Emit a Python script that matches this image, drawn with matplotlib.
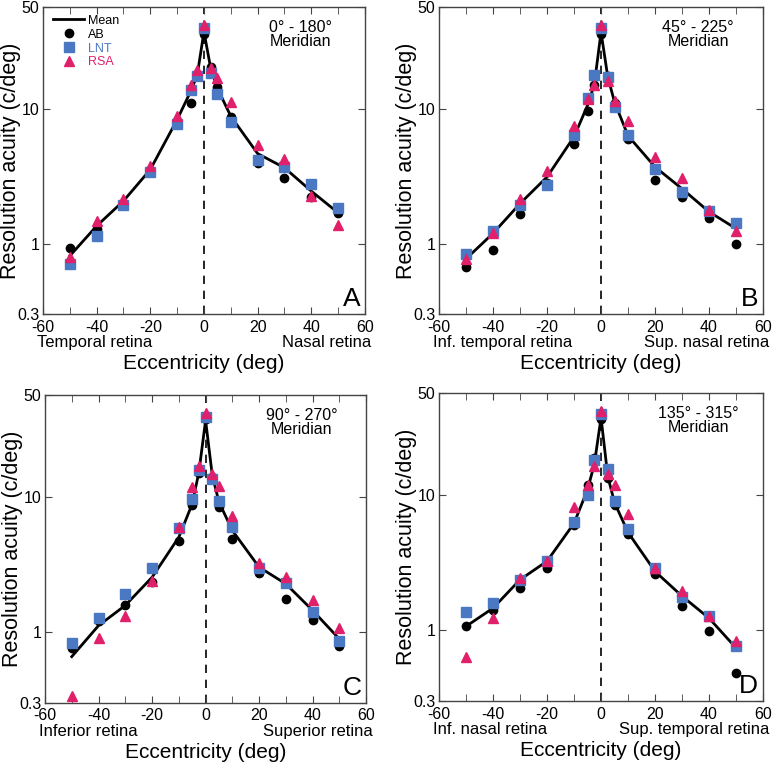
import numpy as np
import matplotlib.pyplot as plt

plt.rcParams['font.family'] = ['Liberation Sans', 'DejaVu Sans']
plt.rcParams['axes.unicode_minus'] = False

ecc = [-50, -40, -30, -20, -10, -5, -2.5, 0, 2.5, 5, 10, 20, 30, 40, 50]

# Panel A: 0-180 meridian
mean_a = [0.81, 1.35, 2.07, 3.54, 8.3, 13.4, 17.8, 37.3, 20.0, 14.2, 8.8, 4.65, 3.65, 2.45, 1.69]
ab_a = [0.92, 1.28, 1.97, 3.44, 8.0, 11.1, 18.0, 36.0, 20.5, 14.4, 8.7, 3.97, 3.07, 2.22, 1.69]
lnt_a = [0.70, 1.14, 1.93, 3.38, 7.7, 13.8, 17.5, 39.5, 18.4, 12.9, 7.97, 4.2, 3.68, 2.77, 1.85]
rsa_a = [0.79, 1.47, 2.15, 3.75, 8.9, 15.0, 19.4, 41.7, 20.2, 16.8, 11.3, 5.4, 4.25, 2.25, 1.37]

# Panel B: 45-225 meridian
mean_b = [0.77, 1.19, 1.98, 3.12, 6.2, 10.6, 15.1, 37.0, 17.2, 11.2, 6.3, 3.7, 2.55, 1.72, 1.29]
ab_b = [0.67, 0.89, 1.67, 2.8, 5.5, 9.7, 15.0, 36.0, 17.6, 11.0, 6.0, 2.98, 2.2, 1.55, 0.99]
lnt_b = [0.84, 1.23, 1.94, 2.73, 6.35, 12.0, 17.9, 39.7, 17.2, 10.3, 6.35, 3.55, 2.41, 1.75, 1.42]
rsa_b = [0.77, 1.19, 2.15, 3.45, 7.4, 11.8, 15.1, 42.0, 16.0, 11.5, 8.1, 4.4, 3.08, 1.77, 1.23]

# Panel C: 90-270 meridian
mean_c = [0.66, 1.12, 1.58, 2.55, 5.05, 8.9, 15.3, 37.0, 14.5, 9.2, 5.66, 3.03, 2.28, 1.45, 0.89]
ab_c = [0.76, 1.21, 1.58, 2.35, 4.77, 8.7, 15.0, 38.0, 14.0, 8.5, 4.9, 2.73, 1.77, 1.23, 0.79]
lnt_c = [0.83, 1.27, 1.92, 2.99, 5.9, 9.7, 15.8, 39.0, 13.7, 9.3, 6.0, 2.98, 2.32, 1.42, 0.86]
rsa_c = [0.34, 0.91, 1.31, 2.41, 6.0, 11.8, 17.1, 42.0, 14.9, 12.1, 7.3, 3.25, 2.55, 1.72, 1.08]

# Panel D: 135-315 meridian
mean_d = [1.07, 1.46, 2.37, 3.25, 6.2, 11.0, 16.9, 37.5, 13.8, 8.8, 5.3, 2.73, 1.79, 1.23, 0.74]
ab_d = [1.07, 1.42, 2.06, 2.9, 6.0, 11.9, 18.9, 36.8, 13.5, 8.4, 5.17, 2.63, 1.52, 0.99, 0.48]
lnt_d = [1.36, 1.58, 2.37, 3.25, 6.3, 10.1, 18.1, 39.6, 15.7, 9.0, 5.6, 2.9, 1.76, 1.27, 0.76]
rsa_d = [0.64, 1.23, 2.44, 3.28, 8.2, 11.8, 16.4, 42.0, 14.4, 11.9, 7.2, 2.9, 1.94, 1.28, 0.83]

panels = [
    ('A', '0\u00b0 - 180\u00b0\nMeridian', 'Temporal retina', 'Nasal retina', mean_a, ab_a, lnt_a, rsa_a),
    ('B', '45\u00b0 - 225\u00b0\nMeridian', 'Inf. temporal retina', 'Sup. nasal retina', mean_b, ab_b, lnt_b, rsa_b),
    ('C', '90\u00b0 - 270\u00b0\nMeridian', 'Inferior retina', 'Superior retina', mean_c, ab_c, lnt_c, rsa_c),
    ('D', '135\u00b0 - 315\u00b0\nMeridian', 'Inf. nasal retina', 'Sup. temporal retina', mean_d, ab_d, lnt_d, rsa_d),
]

BLUE = '#4a78c2'
PINK = '#e0206a'
FRAME = '#444444'
YTOP = 57

boxes = [
    [0.0557, 0.589, 0.417, 0.402],
    [0.5687, 0.589, 0.4197, 0.402],
    [0.0583, 0.080, 0.416, 0.403],
    [0.5687, 0.0825, 0.4197, 0.403],
]

fig = plt.figure(figsize=(7.72, 7.64), dpi=100)

for box, (letter, merid, left_lab, right_lab, mean, ab, lnt, rsa) in zip(boxes, panels):
    ax = fig.add_axes(box)
    ax.set_yscale('log')
    ax.set_xlim(-60, 60)
    ax.set_ylim(0.3, YTOP)
    ax.axvline(0, color='black', ls=(0, (5, 4)), lw=1.2, zorder=1)
    ax.plot(ecc, mean, color='black', lw=2, label='Mean', zorder=2)
    ax.plot(ecc, ab, 'o', color='black', ms=6, label='AB', zorder=3)
    ax.plot(ecc, lnt, 's', color=BLUE, ms=6.5, label='LNT', zorder=3)
    ax.plot(ecc, rsa, '^', color=PINK, ms=7, label='RSA', zorder=4)

    ax.set_xticks(range(-60, 61, 20))
    ax.set_xticks(range(-50, 51, 10), minor=True)
    ax.set_yticks([0.3, 1, 10, YTOP])
    ax.set_yticklabels(['0.3', '1', '10', '50'])
    ax.yaxis.set_minor_locator(plt.NullLocator())
    ax.tick_params(which='both', direction='in', top=True, right=True,
                   labelsize=11.5, color=FRAME, length=5)
    ax.tick_params(axis='x', pad=4)
    ax.tick_params(axis='y', pad=2.5)
    for s in ax.spines.values():
        s.set_color(FRAME)
        s.set_linewidth(1)

    ax.set_ylabel('Resolution acuity (c/deg)', fontsize=15.5, labelpad=-2.5)
    ax.set_xlabel('Eccentricity (deg)', fontsize=15, labelpad=14)
    ax.text(-0.02, -0.094, left_lab, transform=ax.transAxes, fontsize=12,
            ha='left', va='center')
    ax.text(1.02, -0.094, right_lab, transform=ax.transAxes, fontsize=12,
            ha='right', va='center')
    ax.text(0.80, 0.91, merid, transform=ax.transAxes, fontsize=11.5,
            ha='center', va='center', linespacing=0.95)
    ax.text(0.985, 0.025, letter, transform=ax.transAxes, fontsize=19,
            ha='right', va='baseline')

    if letter == 'A':
        ax.legend(loc='upper left', bbox_to_anchor=(0.031, 0.974), frameon=False,
                  fontsize=9, handlelength=2.5, handletextpad=0.3,
                  labelspacing=0.15, borderaxespad=0, borderpad=0,
                  labelcolor=['black', 'black', BLUE, PINK])

fig.savefig('out.png', dpi=100)
